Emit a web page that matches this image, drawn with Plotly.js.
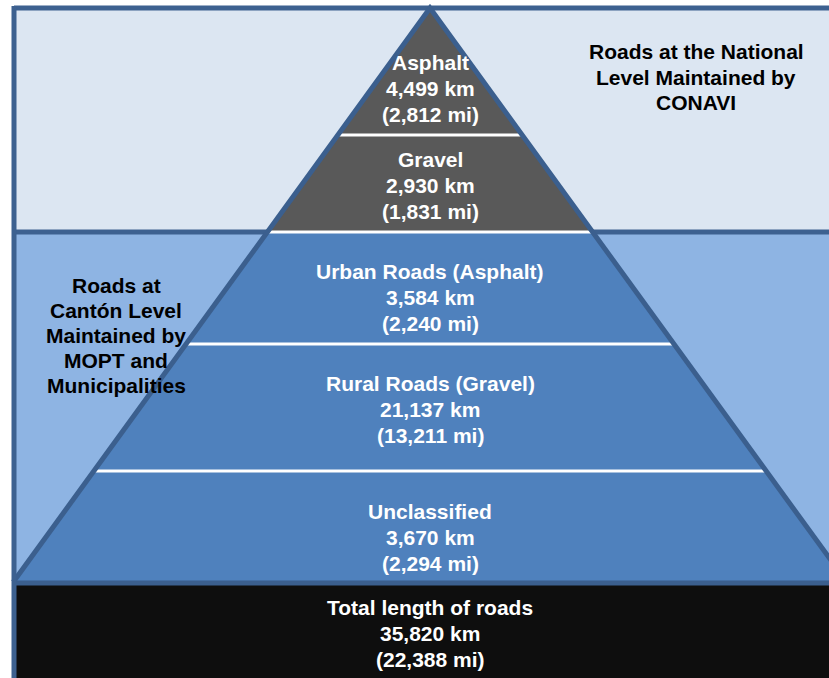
<!DOCTYPE html>
<html>
<head>
<meta charset="utf-8">
<script src="https://cdn.plot.ly/plotly-3.0.1.min.js"></script>
<style>html,body{margin:0;padding:0;background:#fff;}#chart{width:829px;height:678px;}</style>
</head>
<body>
<div id="chart"></div>
<script>
// ---- data ----
var segments = ["Asphalt", "Gravel", "Urban Roads (Asphalt)", "Rural Roads (Gravel)", "Unclassified"];
var km = ["4,499", "2,930", "3,584", "21,137", "3,670"];
var mi = ["2,812", "1,831", "2,240", "13,211", "2,294"];
var totalLabel = "Total length of roads";
var totalKm = "35,820";
var totalMi = "22,388";
var nationalLabel = ["Roads at the National", "Level Maintained by", "CONAVI"];
var cantonLabel = ["Roads at", "Cantón Level", "Maintained by", "MOPT and", "Municipalities"];

// ---- layout geometry (pixel-like plot units) ----
var W = 829, H = 678;
var apexX = 430, apexY = 8, slope = 0.726;
var tierTop = [8, 135, 232, 344, 471];      // top of each segment
var textY = [88, 185, 297, 409, 537];       // centre of each segment's text block
var groupSplit = 232, baseY = 582, totalTop = 585;
function edgeL(y){ return apexX - slope*(y-apexY); }
function edgeR(y){ return apexX + slope*(y-apexY); }

var traces = [];
function poly(y0, y1, color){
  var xs = [edgeL(y0), edgeR(y0), edgeR(y1), edgeL(y1), edgeL(y0)];
  var ys = [y0, y0, y1, y1, y0];
  return {x: xs, y: ys, type: 'scatter', mode: 'lines', fill: 'toself', fillcolor: color,
          line: {width: 0, color: color}, hoverinfo: 'skip', showlegend: false};
}
traces.push(poly(apexY, groupSplit, '#595959'));
traces.push(poly(groupSplit, baseY, '#4f81bd'));
for (var i = 1; i < tierTop.length; i++) {
  var y = tierTop[i];
  traces.push({x: [edgeL(y), edgeR(y)], y: [y, y], type: 'scatter', mode: 'lines',
               line: {color: '#ffffff', width: 3}, hoverinfo: 'skip', showlegend: false});
}
traces.push({x: [edgeL(baseY), apexX, edgeR(baseY)], y: [baseY, apexY, baseY], type: 'scatter', mode: 'lines',
             line: {color: '#3b5f8e', width: 5}, hoverinfo: 'skip', showlegend: false});

var FAM = 'Liberation Sans, Arial, sans-serif';
var annotations = [];
function block(lines, cx, cy, color, step){
  var n = lines.length;
  for (var k = 0; k < n; k++) {
    annotations.push({x: cx, y: cy + (k - (n - 1) / 2) * step, xref: 'x', yref: 'y', showarrow: false,
      text: '<b>' + lines[k] + '</b>', font: {family: FAM, size: 21, color: color},
      xanchor: 'center', yanchor: 'middle', align: 'center'});
  }
}
for (var j = 0; j < segments.length; j++) {
  block([segments[j], km[j] + ' km', '(' + mi[j] + ' mi)'], apexX, textY[j], '#ffffff', 26);
}
block([totalLabel, totalKm + ' km', '(' + totalMi + ' mi)'], apexX, 633, '#ffffff', 26);
block(nationalLabel, 696, 77, '#000000', 25.5);
block(cantonLabel, 116, 335, '#000000', 25);

var shapes = [
  {type: 'rect', xref: 'x', yref: 'y', x0: 14, x1: W + 10, y0: apexY, y1: groupSplit, fillcolor: '#dce6f2', line: {width: 0}, layer: 'below'},
  {type: 'rect', xref: 'x', yref: 'y', x0: 14, x1: W + 10, y0: groupSplit, y1: baseY, fillcolor: '#8eb4e3', line: {width: 0}, layer: 'below'},
  {type: 'rect', xref: 'x', yref: 'y', x0: 14, x1: W + 10, y0: totalTop, y1: H + 10, fillcolor: '#0e0e0e', line: {width: 0}, layer: 'below'},
  {type: 'line', xref: 'x', yref: 'y', x0: 14, x1: W + 10, y0: apexY, y1: apexY, line: {color: '#3d6190', width: 5}, layer: 'below'},
  {type: 'line', xref: 'x', yref: 'y', x0: 14, x1: W + 10, y0: groupSplit, y1: groupSplit, line: {color: '#3d6190', width: 5}, layer: 'below'},
  {type: 'line', xref: 'x', yref: 'y', x0: 14, x1: W + 10, y0: baseY + 1, y1: baseY + 1, line: {color: '#3b5f8e', width: 5}},
  {type: 'line', xref: 'x', yref: 'y', x0: 14, x1: 14, y0: apexY - 2, y1: H + 10, line: {color: '#3d6190', width: 5}}
];

var layout = {
  width: W, height: H, margin: {l: 0, r: 0, t: 0, b: 0},
  paper_bgcolor: '#ffffff', plot_bgcolor: '#ffffff',
  xaxis: {range: [0, W], visible: false, fixedrange: true},
  yaxis: {range: [H, 0], visible: false, fixedrange: true},
  shapes: shapes, annotations: annotations, showlegend: false
};
Plotly.newPlot('chart', traces, layout, {staticPlot: true, displayModeBar: false});
</script>
</body>
</html>
